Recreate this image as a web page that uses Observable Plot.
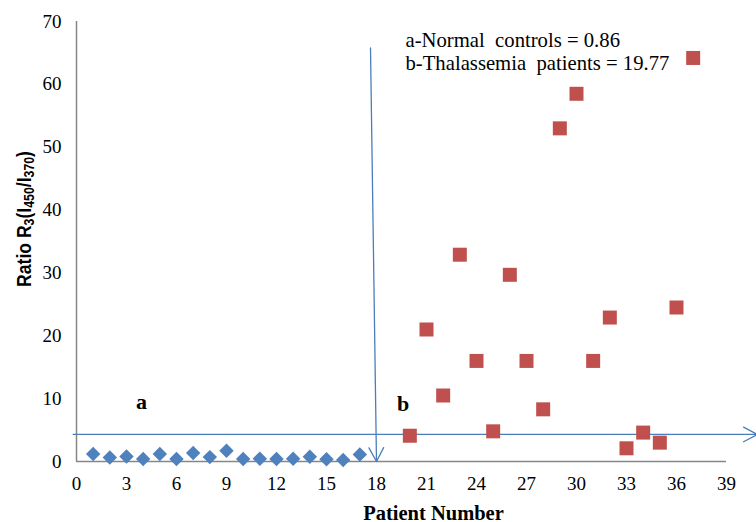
<!DOCTYPE html>
<html>
<head>
<meta charset="utf-8">
<script src="https://cdn.jsdelivr.net/npm/d3@7"></script>
<script src="https://cdn.jsdelivr.net/npm/@observablehq/plot@0.6"></script>
<style>
  html, body { margin: 0; padding: 0; background: #fff; }
  #chart svg { display: block; }
</style>
</head>
<body>
<div id="chart"></div>
<script>
// Normal controls (group a)
const controlPatients = [1,2,3,4,5,6,7,8,9,10,11,12,13,14,15,16,17];
const controlRatios = [1.2,0.65,0.8,0.4,1.2,0.4,1.35,0.7,1.7,0.4,0.45,0.4,0.45,0.75,0.35,0.25,1.1];

// Thalassemia patients (group b)
const thalPatients = [20,21,22,23,24,25,26,27,28,29,30,31,32,33,34,35,36,37];
const thalRatios = [4.1,21,10.5,32.9,16,4.8,29.7,16,8.3,53,58.5,16,22.9,2.1,4.6,3,24.5,64.2];

// Tick values
const xTicks = [0,3,6,9,12,15,18,21,24,27,30,33,36,39];
const yTicks = [0,10,20,30,40,50,60,70];

// Annotation arrows (data coordinates)
const arrowX1 = [17.64, -0.2];
const arrowY1 = [65.8, 4.3];
const arrowX2 = [18, 40.85];
const arrowY2 = [0, 4.3];

// Group labels
const groupLabels = ["a", "b"];
const groupLabelX = [3.9, 19.6];
const groupLabelY = [9.5, 9.2];

const legendText = "a-Normal\u00a0 controls = 0.86\nb-Thalassemia\u00a0 patients = 19.77";

const controls = controlPatients.map((p, i) => ({patient: p, ratio: controlRatios[i]}));
const thal = thalPatients.map((p, i) => ({patient: p, ratio: thalRatios[i]}));
const arrows = arrowX1.map((x1, i) => ({x1, y1: arrowY1[i], x2: arrowX2[i], y2: arrowY2[i]}));
const labels = groupLabels.map((t, i) => ({t, x: groupLabelX[i], y: groupLabelY[i]}));

const serif = "'Liberation Serif', 'Times New Roman', serif";
const sans = "'Liberation Sans', Arial, sans-serif";

const chart = Plot.plot({
  width: 756,
  height: 522,
  marginLeft: 76,
  marginRight: 30,
  marginTop: 21,
  marginBottom: 61,
  style: {fontFamily: serif, fontSize: "19px", color: "#000", background: "#fff"},
  x: {domain: [0, 39]},
  y: {domain: [0, 70]},
  marks: [
    Plot.axisY({ticks: yTicks, tickSize: 0, tickPadding: 15, label: null, fontSize: 19, fontFamily: serif}),
    Plot.axisX({ticks: xTicks, tickSize: 0, tickPadding: 15, label: null, fontSize: 19, fontFamily: serif}),
    Plot.ruleX([0], {y1: 0, y2: 70, stroke: "#868686", strokeWidth: 1.5}),
    Plot.ruleY([0], {x1: 0, x2: 39, stroke: "#868686", strokeWidth: 1.5}),
    Plot.arrow(arrows, {x1: "x1", y1: "y1", x2: "x2", y2: "y2", stroke: "#4a7ebb", strokeWidth: 1.3, headLength: 18, headAngle: 56, bend: 0}),
    Plot.dot(controls, {x: "patient", y: "ratio", symbol: "diamond2", r: 6.5, fill: "#4f81bd", stroke: "none"}),
    Plot.dot(thal, {x: "patient", y: "ratio", symbol: "square", r: 7.9, fill: "#c0504d", stroke: "none"}),
    Plot.text(labels, {x: "x", y: "y", text: "t", fontWeight: "bold", fontSize: 22, fontFamily: serif}),
    Plot.text([legendText], {x: 19.74, y: 68.6, text: d => d, textAnchor: "start", lineAnchor: "top", lineHeight: 1.12, fontSize: 20.7, fontFamily: serif}),
    Plot.text(["Patient Number"], {frameAnchor: "bottom", dx: 32, dy: 58, text: d => d, fontWeight: "bold", fontSize: 20.5, fontFamily: serif})
  ]
});

document.getElementById("chart").appendChild(chart);

// Y-axis title with subscripts
const svg = d3.select(chart);
const yt = svg.append("text")
  .attr("transform", "translate(31,219) rotate(-90) scale(0.88,1)")
  .attr("text-anchor", "middle")
  .attr("font-family", sans)
  .attr("font-weight", "bold")
  .attr("font-size", 20)
  .attr("fill", "#000");
const parts = [["Ratio R", false], ["3", true], ["(I", false], ["450", true], ["/I", false], ["370", true], [")", false]];
parts.forEach(([t, sub]) => {
  yt.append("tspan")
    .attr("font-size", sub ? 14 : 20)
    .attr("baseline-shift", sub ? "-25%" : null)
    .text(t);
});
</script>
</body>
</html>
